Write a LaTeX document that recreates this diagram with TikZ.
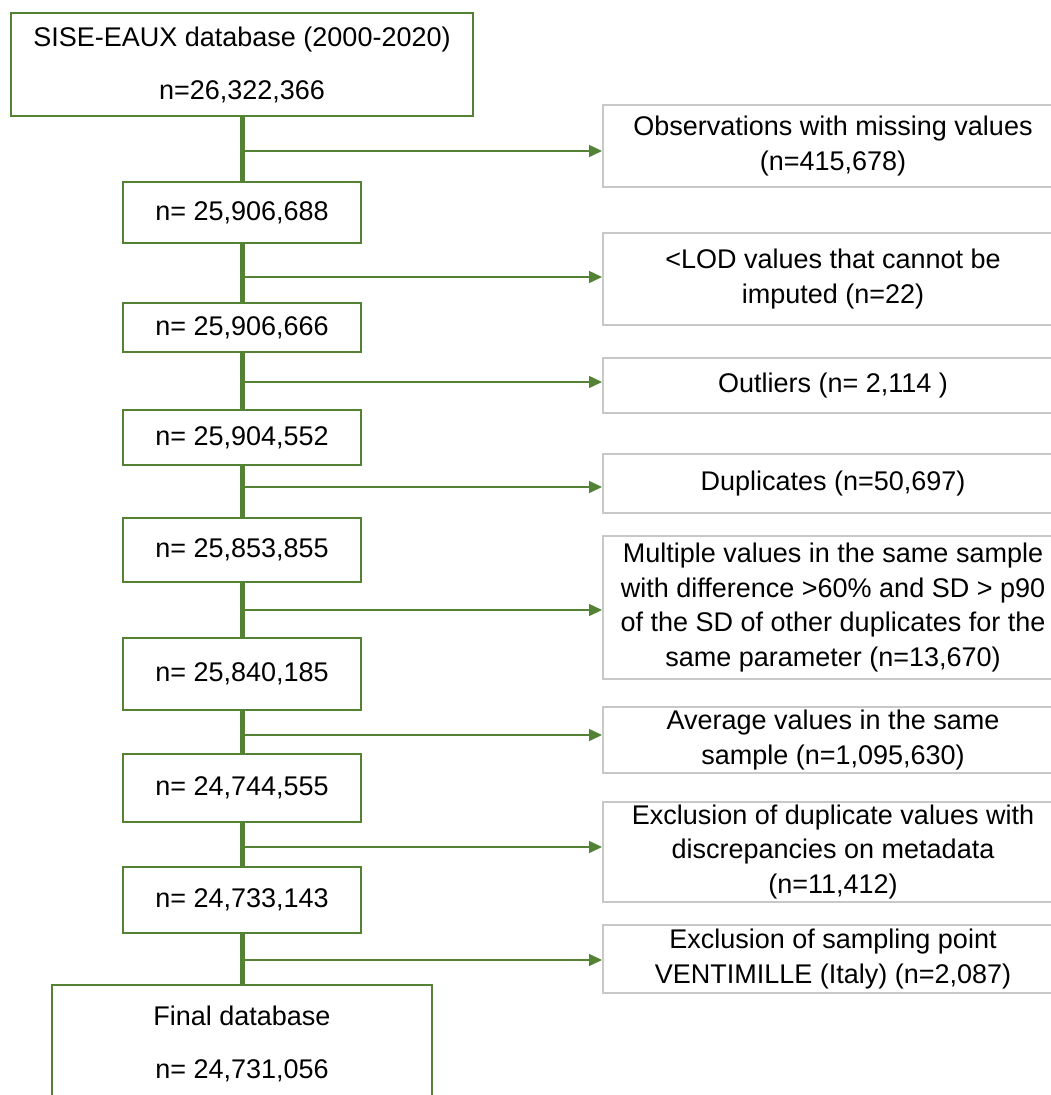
\documentclass[tikz,border=0pt]{standalone}
\usepackage{fontspec}
\setmainfont{Liberation Sans}
\usetikzlibrary{arrows.meta}
\definecolor{fgreen}{HTML}{548235}
\definecolor{fgray}{HTML}{C8C8C8}
\begin{document}
\begin{tikzpicture}[x=1pt,y=-1pt,
  leftbox/.style={draw=fgreen,line width=2.2pt,fill=white,rectangle,inner sep=0pt,align=center,
    font=\fontsize{27}{32}\selectfont},
  twoline/.style={font=\fontsize{27}{53}\selectfont},
  rightbox/.style={draw=fgray,line width=2pt,fill=white,rectangle,inner sep=0pt,align=center,
    minimum width=460pt,font=\fontsize{27}{34.5}\selectfont},
  trunk/.style={draw=fgreen,line width=5pt},
  branch/.style={draw=fgreen,line width=1.5pt,-{Triangle[length=13pt,width=12pt]}}]
\useasboundingbox (0,0) rectangle (1051,1095);
\fill[white] (0,0) rectangle (1051,1095);
% left column
\node[leftbox,twoline,minimum width=462pt,minimum height=103pt] (b1) at (242,64.5) {SISE-EAUX database (2000-2020)\\n=26,322,366};
\node[leftbox,minimum width=238pt,minimum height=61pt] (b2) at (242,212.5) {n= 25,906,688};
\node[leftbox,minimum width=238pt,minimum height=49pt] (b3) at (242,327.5) {n= 25,906,666};
\node[leftbox,minimum width=238pt,minimum height=55pt] (b4) at (242,437.5) {n= 25,904,552};
\node[leftbox,minimum width=238pt,minimum height=64pt] (b5) at (242,550) {n= 25,853,855};
\node[leftbox,minimum width=238pt,minimum height=72pt] (b6) at (242,674) {n= 25,840,185};
\node[leftbox,minimum width=238pt,minimum height=68pt] (b7) at (242,788) {n= 24,744,555};
\node[leftbox,minimum width=238pt,minimum height=66pt] (b8) at (242,900) {n= 24,733,143};
\node[leftbox,twoline,minimum width=380pt,minimum height=117pt] (b9) at (242,1043.5) {Final database\\n= 24,731,056};
% right column
\node[rightbox,minimum height=82pt] (r1) at (833,146) {Observations with missing values\\(n=415,678)};
\node[rightbox,minimum height=92pt] (r2) at (833,279) {<LOD values that cannot be\\imputed (n=22)};
\node[rightbox,minimum height=55pt] (r3) at (833,385.5) {Outliers (n= 2,114 )};
\node[rightbox,minimum height=59pt] (r4) at (833,483.5) {Duplicates (n=50,697)};
\node[rightbox,minimum height=143pt] (r5) at (833,607.5) {Multiple values in the same sample\\with difference >60\% and SD > p90\\of the SD of other duplicates for the\\same parameter (n=13,670)};
\node[rightbox,minimum height=66pt] (r6) at (833,740) {Average values in the same\\sample (n=1,095,630)};
\node[rightbox,minimum height=100pt] (r7) at (833,852) {Exclusion of duplicate values with\\discrepancies on metadata\\(n=11,412)};
\node[rightbox,minimum height=68pt] (r8) at (833,959) {Exclusion of sampling point\\VENTIMILLE (Italy) (n=2,087)};
% trunk
\foreach \a/\b in {b1/b2,b2/b3,b3/b4,b4/b5,b5/b6,b6/b7,b7/b8,b8/b9}
  \draw[trunk] (\a.south) -- (\b.north);
% branches
\coordinate (j1) at (242,151);
\coordinate (j2) at (242,277);
\coordinate (j3) at (242,382);
\coordinate (j4) at (242,487);
\coordinate (j5) at (242,610);
\coordinate (j6) at (242,735);
\coordinate (j7) at (242,847);
\coordinate (j8) at (242,960);
\foreach \i in {1,...,8}
  \draw[branch] (j\i) -- (j\i -| r\i.west);
\end{tikzpicture}
\end{document}
